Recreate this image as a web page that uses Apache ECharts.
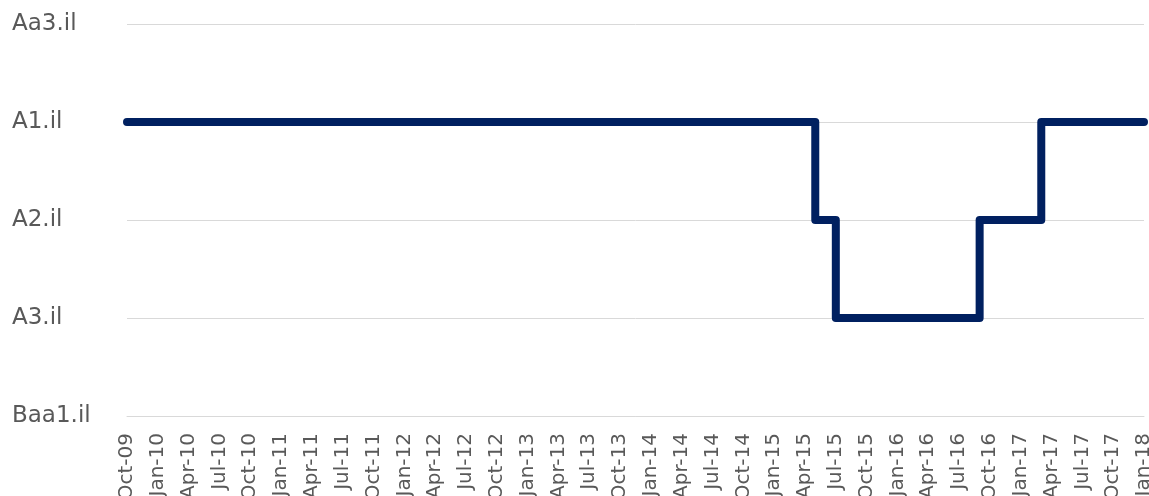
<!DOCTYPE html>
<html>
<head>
<meta charset="utf-8">
<script src="https://cdn.jsdelivr.net/npm/echarts@6/dist/echarts.min.js"></script>
<style>
  html, body { margin: 0; padding: 0; background: #fff; }
  #chart { width: 1149px; height: 496px; }
</style>
</head>
<body>
<div id="chart"></div>
<script>
// rating scale, bottom to top
const ratingScale = ['Baa1.il', 'A3.il', 'A2.il', 'A1.il', 'Aa3.il']

// monthly categories Oct-09 .. Jan-18
const monthNames = ['Jan', 'Feb', 'Mar', 'Apr', 'May', 'Jun', 'Jul', 'Aug', 'Sep', 'Oct', 'Nov', 'Dec']
const firstYear = 2009
const firstMonth = 9
const monthCount = 100
const months = []
for (let i = 0; i < monthCount; i++) {
  const m = firstMonth + i
  const y = firstYear + Math.floor(m / 12)
  months.push(monthNames[m % 12] + '-' + String(y % 100).padStart(2, '0'))
}

// rating changes (value holds from that month on)
const changeMonths = ['Oct-09', 'May-15', 'Jul-15', 'Sep-16', 'Mar-17', 'Jan-18']
const changeRatings = ['A1.il', 'A2.il', 'A3.il', 'A2.il', 'A1.il', 'A1.il']

const chart = echarts.init(document.getElementById('chart'))

const option = {
  animation: false,
  grid: {
    left: 127,
    right: 5,
    top: 24,
    bottom: 80,
    outerBoundsMode: 'none'
  },
  xAxis: {
    type: 'category',
    data: months,
    boundaryGap: false,
    axisLine: { lineStyle: { color: '#d9d9d9', width: 1 } },
    axisTick: { show: false },
    axisLabel: {
      interval: 2,
      rotate: 90,
      margin: 17,
      fontFamily: 'DejaVu Sans',
      fontSize: 20,
      color: '#595959'
    }
  },
  yAxis: {
    type: 'category',
    data: ratingScale,
    boundaryGap: false,
    axisLine: { show: false },
    axisTick: { show: false },
    splitLine: { show: true, lineStyle: { color: '#d9d9d9', width: 1 } },
    axisLabel: {
      align: 'left',
      margin: 115,
      fontFamily: 'DejaVu Sans',
      fontSize: 23,
      color: '#595959'
    }
  },
  series: [
    {
      type: 'line',
      step: 'end',
      symbol: 'none',
      data: changeMonths.map((m, i) => [m, changeRatings[i]]),
      lineStyle: { color: '#002060', width: 8, cap: 'round', join: 'round' }
    }
  ]
}

chart.setOption(option)
</script>
</body>
</html>
